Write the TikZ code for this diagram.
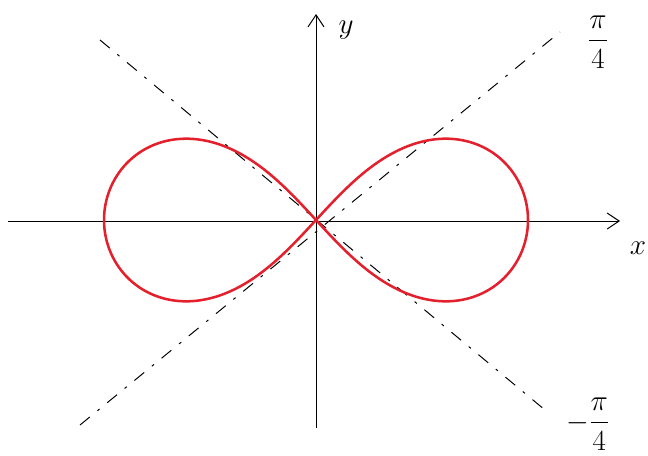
\documentclass[tikz,border=0pt]{standalone}
\usepackage{amsmath,amssymb}
\usetikzlibrary{arrows.meta, calc}
\definecolor{lemred}{HTML}{E3202C}
\tikzset{
  % axes and guide lines
  axis/.style={line width=0.7pt, -{Straight Barb[length=3mm,width=4mm]}},
  guide/.style={line width=0.7pt, dash pattern=on 9pt off 7pt on 2pt off 7pt},
  % the curve itself
  lemn/.style={draw=lemred, line width=1.8pt, line join=round},
  lbl/.style={font=\huge, inner sep=1pt},
}
\begin{document}
\begin{tikzpicture}[x=0.025cm, y=-0.025cm]
\useasboundingbox (0,0) rectangle (648,455);

% ── axes ─────────────────────────────────────────────────────────────
\coordinate (O) at (316,221);
\coordinate (xL) at (8,221);
\coordinate (xR) at (620,221);
\coordinate (yB) at (316,428);
\coordinate (yT) at (316,14);
\draw[axis] (xL) -- (xR);
\draw[axis] (yB) -- (yT);
\node[lbl] (ylab) at (346,30) {$y$};
\node[lbl] (xlab) at (638,248) {$x$};

% ── diagonals at pi/4 and -pi/4 ──────────────────────────────────────
\coordinate (dA1) at (80,425);
\coordinate (dA2) at (560,32);
\coordinate (dB1) at (100,40);
\coordinate (dB2) at (545,410);
\draw[guide] (dA1) -- (dA2);
\draw[guide] (dB1) -- (dB2);
\node[lbl] (qpos) at (598,42) {$\dfrac{\pi}{4}$};
\node[lbl] (qneg) at (588,424) {$-\dfrac{\pi}{4}$};

% ── lemniscate ───────────────────────────────────────────────────────
\draw[lemn] plot[domain=0:360, samples=240, smooth]
  ({316+212*cos(\x)/(1+sin(\x)^2)}, {220-230*sin(\x)*cos(\x)/(1+sin(\x)^2)}) -- cycle;

\end{tikzpicture}
\end{document}
